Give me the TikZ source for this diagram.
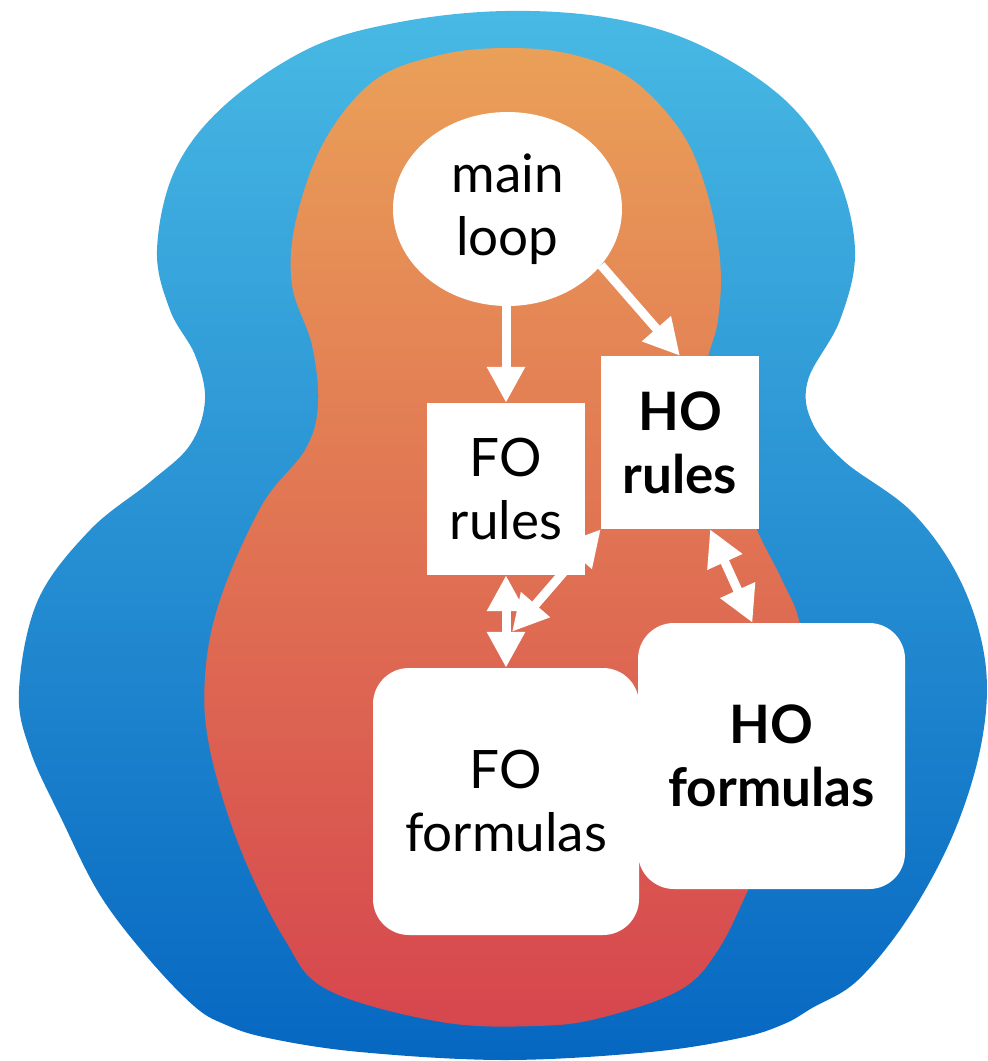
\documentclass[tikz,border=0pt]{standalone}
\usepackage{fontspec}
\setmainfont{Lato}
\usetikzlibrary{arrows.meta,shapes.geometric,calc}
\pgfdeclarelayer{blobs}
\pgfdeclarelayer{links}
\pgfsetlayers{blobs,links,main}
\definecolor{blueTop}{RGB}{72,185,228}
\definecolor{blueBot}{RGB}{6,103,193}
\definecolor{warmTop}{RGB}{234,160,88}
\definecolor{warmBot}{RGB}{214,70,78}
\begin{document}
\begin{tikzpicture}[x=1pt,y=-1pt,
  lbl/.style={font=\fontsize{53pt}{63pt}\selectfont, align=center, text=black, fill=white, inner sep=0pt},
  squarebox/.style={lbl, rectangle},
  roundbox/.style={lbl, rectangle, rounded corners=36pt},
  oval/.style={lbl, ellipse},
  heavy/.style={font=\fontsize{53pt}{63pt}\selectfont\bfseries},
  link/.style={draw=white, line width=9pt, >={Triangle[length=36pt,width=36pt]}}
]
\useasboundingbox (0,0) rectangle (988,1061);

% nodes
\node[oval, minimum width=229pt, minimum height=194pt] (main) at (507.5,209) {main\\loop};
\node[squarebox, minimum width=158pt, minimum height=172pt] (forules) at (506,489) {FO\\rules};
\node[squarebox, heavy, minimum width=158pt, minimum height=173pt] (horules) at (680,442.5) {HO\\rules};
\node[roundbox, minimum width=266pt, minimum height=267pt] (foform) at (506,801.5) {FO\\formulas};
\node[roundbox, heavy, minimum width=267pt, minimum height=266pt] (hoform) at (771.5,756) {HO\\formulas};

% outer and inner regions
\begin{pgfonlayer}{blobs}
\shade[top color=blueTop, bottom color=blueBot]
  plot[smooth cycle, tension=0.6] coordinates {
  (505,11) (610,18) (700,45) (785,100) (835,170) (855,250) (840,320)
  (808,380) (812,422) (845,462) (912,512) (960,580) (985,660) (982,740)
  (955,830) (910,915) (858,980) (812,1008) (784,1024) (740,1038) (650,1052) (505,1060)
  (360,1052) (268,1038) (224,1024) (194,1006) (148,958) (100,895) (62,820) (30,750) (19,690)
  (38,600) (90,530) (150,482) (190,445) (205,400) (195,355) (170,310)
  (157,250) (175,170) (225,105) (310,48) (400,22)};
\shade[top color=warmTop, bottom color=warmBot]
  plot[smooth cycle, tension=0.6] coordinates {
  (505,48) (570,54) (630,78) (680,130) (706,189) (720,260) (718,320)
  (705,378) (722,445) (757,530) (782,580) (800,625) (805,700) (790,800)
  (750,886) (718,950) (680,990) (600,1018) (536,1026) (441,1022)
  (328,990) (285,940) (240,848) (210,750) (205,677) (220,600) (262,505)
  (305,450) (318,405) (312,345) (292,285) (296,220) (325,140) (375,80)
  (440,55)};
\end{pgfonlayer}

% connectors
\begin{pgfonlayer}{links}
\draw[link,->] (main.south -| forules.north) -- (forules.north);
\draw[link,->] (main.-31) -- (horules.north);
\draw[link,<->] (forules.south) -- (foform.north);
\draw[link,<->] (horules.south west) -- ([xshift=6pt,yshift=36pt]foform.north);
\draw[link,<->] ([xshift=30pt]horules.south) -- ([xshift=-19pt]hoform.north);
\end{pgfonlayer}
\end{tikzpicture}
\end{document}
